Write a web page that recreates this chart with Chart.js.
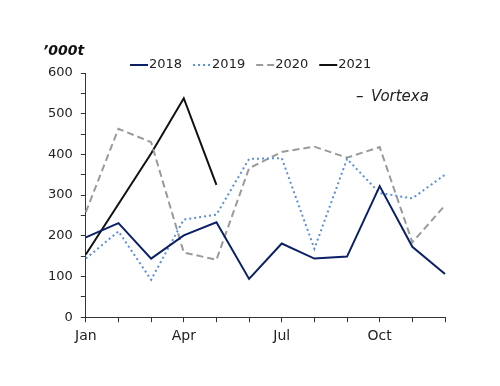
<!DOCTYPE html>
<html>
<head>
<meta charset="utf-8">
<script src="https://cdn.jsdelivr.net/npm/chart.js@4"></script>
<style>
  html, body { margin: 0; padding: 0; background: #fff; }
  #wrap { width: 500px; height: 386px; }
</style>
</head>
<body>
<div id="wrap"><canvas id="chart" width="500" height="386"></canvas></div>
<script>
const months = ["Jan", "Feb", "Mar", "Apr", "May", "Jun", "Jul", "Aug", "Sep", "Oct", "Nov", "Dec"];
const y2018 = [196, 231, 144, 201, 233, 94, 181, 144, 149, 322, 173, 106];
const y2019 = [144, 211, 92, 240, 252, 389, 391, 168, 389, 305, 292, 350];
const y2020 = [258, 463, 430, 159, 141, 366, 406, 419, 392, 418, 184, 275];
const y2021 = [154, 278, 402, 538, 325];

const fontFamily = "'DejaVu Sans', sans-serif";
Chart.defaults.font.family = fontFamily;
Chart.defaults.color = "#222";

// legend row, unit label and source note
const notes = {
  id: "notes",
  afterDraw(chart) {
    const ctx = chart.ctx;
    ctx.save();
    ctx.textBaseline = "middle";

    // legend
    ctx.font = "13px " + fontFamily;
    let x = 130;
    const ly = 65;
    chart.data.datasets.forEach(ds => {
      ctx.strokeStyle = ds.borderColor;
      ctx.lineWidth = 2;
      ctx.setLineDash(ds.borderDash || []);
      ctx.beginPath();
      ctx.moveTo(x, ly);
      ctx.lineTo(x + 18, ly);
      ctx.stroke();
      ctx.setLineDash([]);
      ctx.fillStyle = "#222";
      ctx.fillText(ds.label, x + 19, ly);
      x += 19 + ctx.measureText(ds.label).width + 11;
    });

    ctx.fillStyle = "#111";
    ctx.font = "italic bold 14px " + fontFamily;
    ctx.fillText("\u2019000t", 43, 51);
    ctx.font = "italic 15px " + fontFamily;
    ctx.fillStyle = "#222";
    ctx.fillText("\u2013", 356, 97);
    ctx.fillText("Vortexa", 371, 97);
    ctx.restore();
  }
};

new Chart(document.getElementById("chart"), {
  type: "line",
  data: {
    labels: months,
    datasets: [
      { label: "2018", data: y2018, borderColor: "#0b2067", borderWidth: 2 },
      { label: "2019", data: y2019, borderColor: "#5b8fd9", borderWidth: 2, borderDash: [2, 3] },
      { label: "2020", data: y2020, borderColor: "#9a9a9a", borderWidth: 2, borderDash: [7, 4] },
      { label: "2021", data: y2021, borderColor: "#111", borderWidth: 2 }
    ]
  },
  options: {
    responsive: false,
    animation: false,
    elements: { point: { radius: 0 }, line: { tension: 0 } },
    layout: { padding: { left: 40, right: 55, top: 73, bottom: 35 } },
    plugins: {
      legend: { display: false },
      tooltip: { enabled: false }
    },
    scales: {
      x: {
        offset: false,
        grid: { drawOnChartArea: false, drawTicks: true, tickLength: 5, color: "#333" },
        border: { color: "#333" },
        ticks: {
          autoSkip: false,
          maxRotation: 0,
          font: { size: 14 },
          padding: 6,
          callback: (v, i) => (i % 3 === 0 ? months[i] : "")
        }
      },
      y: {
        min: 0,
        max: 600,
        grid: { drawOnChartArea: false, drawTicks: true, tickLength: 5, color: "#333" },
        border: { color: "#333" },
        ticks: {
          stepSize: 50,
          font: { size: 13 },
          padding: 8,
          callback: v => (v % 100 === 0 ? v : "")
        }
      }
    }
  },
  plugins: [notes]
});
</script>
</body>
</html>
